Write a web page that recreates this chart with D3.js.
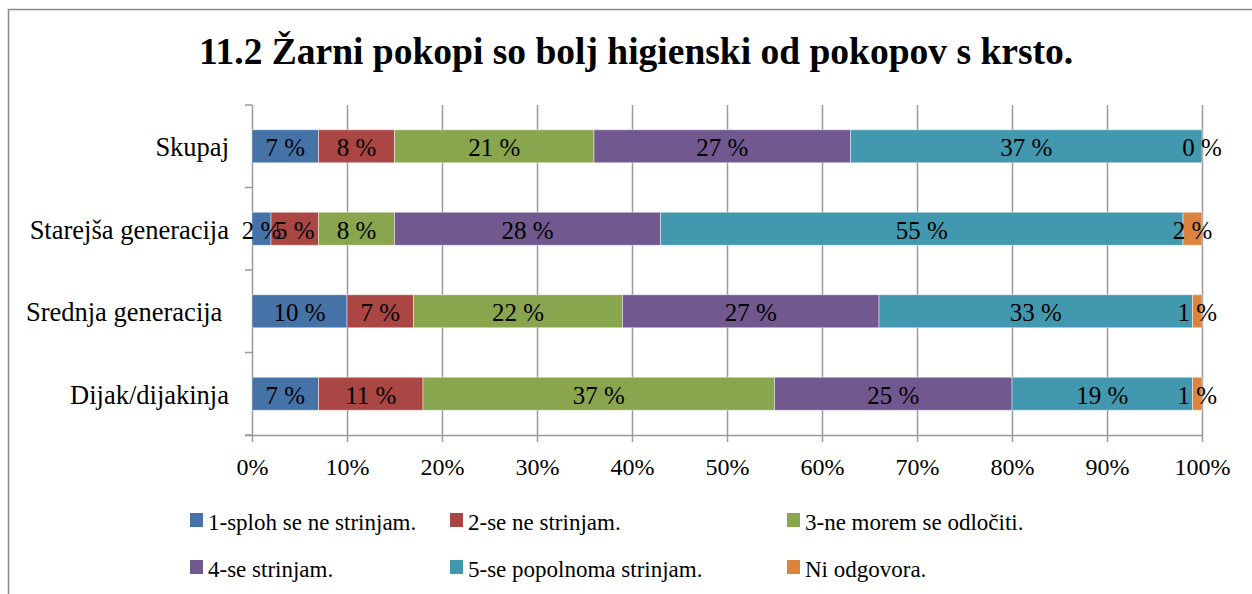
<!DOCTYPE html>
<html>
<head>
<meta charset="utf-8">
<script src="https://cdn.jsdelivr.net/npm/d3@7"></script>
<style>
  html, body { margin: 0; padding: 0; background: #fff; }
  svg { display: block; }
</style>
</head>
<body>
<svg id="chart" width="1252" height="594"></svg>
<script>
const title = "11.2 Žarni pokopi so bolj higienski od pokopov s krsto.";
const categories = ["Skupaj", "Starejša generacija", "Srednja generacija ", "Dijak/dijakinja"];
const seriesNames = ["1-sploh se ne strinjam.", "2-se ne strinjam.", "3-ne morem se odločiti.", "4-se strinjam.", "5-se popolnoma strinjam.", "Ni odgovora."];
const seriesColors = ["#4572A7", "#AA4643", "#89A54E", "#71588F", "#4198AF", "#DB843D"];
const s1 = [7, 2, 10, 7];
const s2 = [8, 5, 7, 11];
const s3 = [21, 8, 22, 37];
const s4 = [27, 28, 27, 25];
const s5 = [37, 55, 33, 19];
const s6 = [0, 2, 1, 1];
const xTicks = [0, 10, 20, 30, 40, 50, 60, 70, 80, 90, 100];

const seriesValues = [s1, s2, s3, s4, s5, s6];
const FONT = "Liberation Serif";
const svg = d3.select("#chart");

// outer frame
svg.append("rect").attr("x", 8.5).attr("y", 9.5).attr("width", 1260).attr("height", 600)
  .attr("fill", "none").attr("stroke", "#8a8a8a").attr("stroke-width", 1.5);

svg.append("text").attr("x", 636).attr("y", 64).attr("text-anchor", "middle")
  .attr("font-family", FONT).attr("fill", "#000")
  .style("font-size", "37.5px").style("font-weight", "bold").text(title);

const x = d3.scaleLinear().domain([0, 100]).range([252, 1202]);
const y = d3.scaleBand().domain(categories).range([105, 435]).paddingInner(0.6).paddingOuter(0.3);

const gridColor = "#9a9a9a";
// gridlines
svg.append("g").selectAll("line").data(xTicks.slice(1)).join("line")
  .attr("x1", d => Math.round(x(d)) + 0.5).attr("x2", d => Math.round(x(d)) + 0.5)
  .attr("y1", 105).attr("y2", 435)
  .attr("stroke", gridColor).attr("stroke-width", 1.5);

// x axis
const xAxis = d3.axisBottom(x).tickValues(xTicks).tickSize(7).tickFormat(d => d + "%");
const gx = svg.append("g").attr("transform", "translate(0,435)").call(xAxis)
  .attr("font-family", FONT).attr("font-size", 24);
gx.select(".domain").attr("stroke", gridColor).attr("stroke-width", 1.5).attr("d", "M245,0.5H1202");
gx.selectAll(".tick line").attr("stroke", gridColor).attr("stroke-width", 1.5);
gx.selectAll(".tick text").attr("y", 40).attr("dy", 0).attr("fill", "#000");

// y axis line + category ticks at band boundaries
const step = y.step();
const boundaries = d3.range(categories.length + 1).map(i => 105 + i * step);
svg.append("line").attr("x1", 252.5).attr("x2", 252.5).attr("y1", 105).attr("y2", 435)
  .attr("stroke", gridColor).attr("stroke-width", 1.5);
svg.append("g").selectAll("line").data(boundaries).join("line")
  .attr("x1", 245).attr("x2", 252).attr("y1", d => d).attr("y2", d => d)
  .attr("stroke", gridColor).attr("stroke-width", 1.5);

// category labels
svg.append("g").attr("font-family", FONT).attr("fill", "#000")
  .selectAll("text").data(categories).join("text")
  .attr("x", 229).attr("y", d => y(d) + y.bandwidth() / 2 + 10)
  .attr("text-anchor", "end").attr("xml:space", "preserve").style("white-space", "pre")
  .style("font-size", "26.5px").text(d => d);

// stacked data
const rows = categories.map((c, i) => {
  const o = { cat: c };
  seriesValues.forEach((s, j) => o["s" + j] = s[i]);
  return o;
});
const keys = seriesValues.map((s, j) => "s" + j);
const stacked = d3.stack().keys(keys)(rows);

const layers = svg.append("g").selectAll("g").data(stacked).join("g")
  .attr("fill", (d, i) => seriesColors[i]);
layers.selectAll("rect").data(d => d).join("rect")
  .attr("x", d => x(d[0])).attr("width", d => x(d[1]) - x(d[0]))
  .attr("y", d => y(d.data.cat)).attr("height", y.bandwidth())
  .attr("stroke", "rgba(255,255,255,0.45)").attr("stroke-width", 1);

// data labels
const lbl = svg.append("g").attr("font-family", FONT).attr("fill", "#000");
stacked.forEach((layer, i) => {
  layer.forEach(d => {
    const v = d[1] - d[0];
    lbl.append("text")
      .attr("x", (x(d[0]) + x(d[1])) / 2)
      .attr("y", y(d.data.cat) + y.bandwidth() / 2 + 10)
      .attr("text-anchor", "middle")
      .style("font-size", "25px")
      .text(v + " %");
  });
});

// legend
const legendPos = [[190, 0], [450, 0], [787, 0], [190, 1], [450, 1], [787, 1]];
const lg = svg.append("g").attr("font-family", FONT).attr("fill", "#000")
  .selectAll("g").data(seriesNames).join("g")
  .attr("transform", (d, i) => `translate(${legendPos[i][0]},${legendPos[i][1] ? 577 : 530})`);
lg.append("rect").attr("x", 0).attr("y", -17).attr("width", 13).attr("height", 14)
  .attr("fill", (d, i) => seriesColors[i]);
lg.append("text").attr("x", 18).attr("y", 0).style("font-size", "23px").text(d => d);
</script>
</body>
</html>
